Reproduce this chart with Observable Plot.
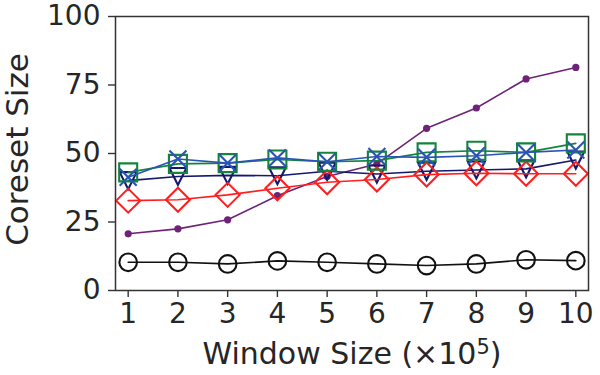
<!DOCTYPE html>
<html>
<head>
<meta charset="utf-8">
<script src="https://cdn.jsdelivr.net/npm/d3@7"></script>
<script src="https://cdn.jsdelivr.net/npm/@observablehq/plot@0.6"></script>
<style>
  html, body { margin: 0; padding: 0; background: #fff; }
  #chart svg { display: block; }
</style>
</head>
<body>
<div id="chart"></div>
<script>
// Window sizes (×10^5)
const windowSizes = [1, 2, 3, 4, 5, 6, 7, 8, 9, 10];
const xTicks = [1, 2, 3, 4, 5, 6, 7, 8, 9, 10];
const yTicks = [0, 25, 50, 75, 100];

// Coreset size per method
const circleSeries   = [10.3, 10.3, 9.7, 10.8, 10.3, 9.7, 9.1, 9.7, 11.2, 10.9];
const dotSeries      = [20.7, 22.5, 25.8, 34.6, 41.6, 46.2, 59.2, 66.6, 77.2, 81.4];
const diamondSeries  = [32.8, 33.1, 34.9, 37.3, 39.5, 40.5, 42.3, 42.8, 42.6, 42.6];
const triangleSeries = [40.1, 41.6, 42.0, 41.9, 43.5, 42.5, 43.5, 44.0, 44.4, 47.6];
const squareSeries   = [43.1, 46.2, 46.5, 47.8, 47.0, 47.4, 50.4, 51.0, 50.4, 53.7];
const crossSeries    = [41.3, 48.0, 46.5, 48.4, 47.0, 48.9, 48.6, 49.2, 50.4, 51.3];

const xTitle = "Window Size (×10⁵)";
const yTitle = "Coreset Size";

// Marker shapes; r = sqrt(size / PI) is the dot radius in pixels
const rad = (size) => Math.sqrt(size / Math.PI);
const circleSym = { draw(c, size) { const r = rad(size); c.moveTo(r, 0); c.arc(0, 0, r, 0, 2 * Math.PI); c.closePath(); } };
const squareSym = { draw(c, size) { const r = rad(size); c.rect(-r, -r, 2 * r, 2 * r); } };
const diamondSym = { draw(c, size) { const r = rad(size); c.moveTo(0, -r); c.lineTo(r, 0); c.lineTo(0, r); c.lineTo(-r, 0); c.closePath(); } };
const triDownSym = { draw(c, size) { const r = rad(size); c.moveTo(-r, -r); c.lineTo(r, -r); c.lineTo(0, r); c.closePath(); } };
const crossSym = { draw(c, size) { const r = rad(size); c.moveTo(-r, -r); c.lineTo(r, r); c.moveTo(r, -r); c.lineTo(-r, r); } };

const rows = (ys) => windowSizes.map((x, i) => ({ x, y: ys[i] }));

const series = [
  { data: rows(circleSeries),   color: "#111111", symbol: circleSym,  r: 8.8, fill: "none" },
  { data: rows(dotSeries),      color: "#6e2278", symbol: "circle",   r: 3.6, fill: "#6e2278" },
  { data: rows(triangleSeries), color: "#15196b", symbol: triDownSym, r: 8.5, fill: "none" },
  { data: rows(diamondSeries),  color: "#ff1f1f", symbol: diamondSym, r: 12,  fill: "none" },
  { data: rows(squareSeries),   color: "#14843c", symbol: squareSym,  r: 9,   fill: "none" },
  { data: rows(crossSeries),    color: "#2a54b4", symbol: crossSym,   r: 8.5, fill: "none" }
];

const marks = [];
for (const s of series) {
  marks.push(Plot.line(s.data, { x: "x", y: "y", stroke: s.color, strokeWidth: 1.6 }));
  marks.push(Plot.dot(s.data, {
    x: "x", y: "y", symbol: () => s.symbol, r: s.r,
    stroke: s.fill === "none" ? s.color : null, fill: s.fill, strokeWidth: 2.1
  }));
}

const chart = Plot.plot({
  width: 600,
  height: 375,
  marginLeft: 115,
  marginRight: 12,
  marginTop: 16,
  marginBottom: 85,
  style: { fontFamily: "DejaVu Sans", fontSize: "28px", color: "#262626", background: "#fff" },
  x: { domain: [0.745, 10.255] },
  y: { domain: [0, 100] },
  marks: [
    Plot.axisX({ ticks: xTicks, tickSize: 7, tickPadding: 6, tickFormat: d3.format("d"), label: null, stroke: "#333", strokeWidth: 1.4 }),
    Plot.axisY({ ticks: yTicks, tickSize: 7, tickPadding: 8, tickFormat: d3.format("d"), label: null, stroke: "#333", strokeWidth: 1.4 }),
    ...marks,
    Plot.frame({ stroke: "#333", strokeWidth: 1.5 }),
    Plot.text([xTitle], { frameAnchor: "bottom", lineAnchor: "middle", textAnchor: "middle", dy: 64, text: (d) => d, fontSize: 30, fill: "#262626" }),
    Plot.text([yTitle], { frameAnchor: "left", lineAnchor: "middle", textAnchor: "middle", dx: -97, dy: -4, rotate: -90, text: (d) => d, fontSize: 31, fill: "#262626" })
  ]
});

// Typeset the exponent of the x title as a raised, smaller "5"
d3.select(chart).selectAll("text").each(function () {
  if (this.textContent !== xTitle) return;
  const t = d3.select(this);
  t.text(null);
  t.append("tspan").text("Window Size (×10");
  t.append("tspan").attr("font-size", "0.7em").attr("dy", "-0.5em").text("5");
  t.append("tspan").attr("dy", "0.35em").text(")");
});

document.getElementById("chart").appendChild(chart);
</script>
</body>
</html>
